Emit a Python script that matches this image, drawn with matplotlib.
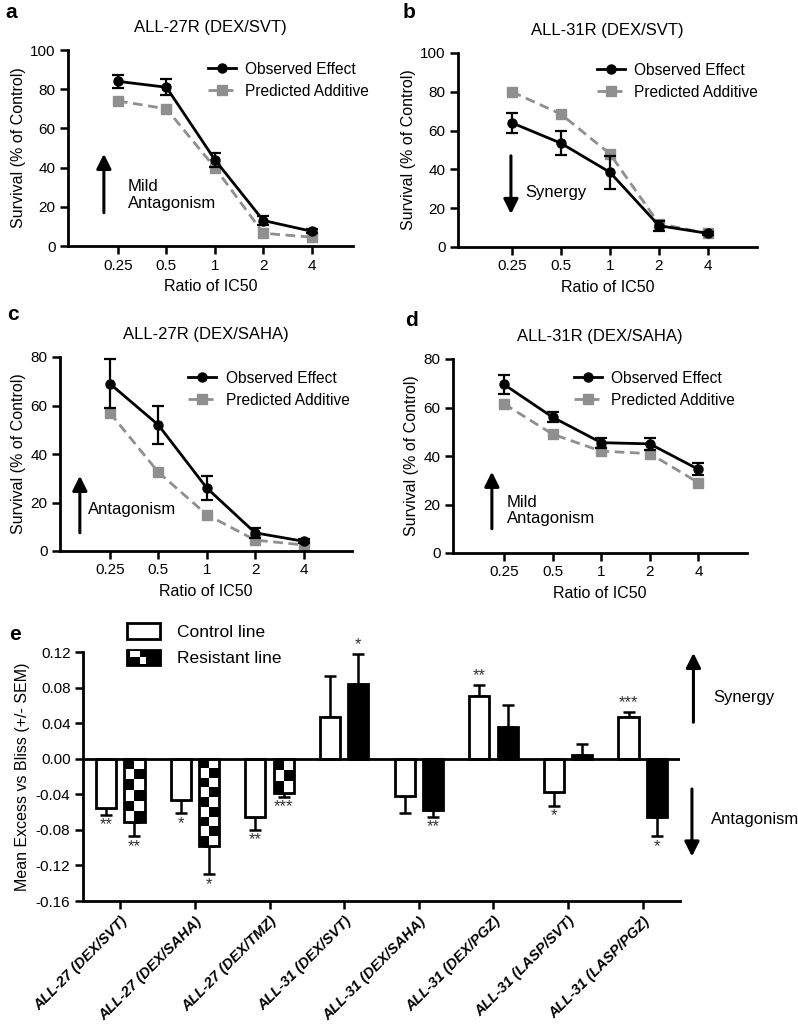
import matplotlib
matplotlib.use("Agg")
import matplotlib.pyplot as plt
import numpy as np
from matplotlib.legend_handler import HandlerBase
from matplotlib.patches import Rectangle, Patch
from matplotlib.lines import Line2D

plt.rcParams["font.family"] = ["Liberation Sans", "DejaVu Sans"]

# ---- data ----
ratios = ["0.25", "0.5", "1", "2", "4"]

a_obs = [84, 81, 44, 13, 7.5]
a_err = [3.2, 4, 3.5, 2.5, 1]
a_pred = [74, 70, 40, 6.5, 4.5]

b_obs = [64, 53.5, 38.5, 11, 7]
b_err = [5, 6.3, 8.5, 2.5, 0.8]
b_pred = [80, 68.5, 48, 12, 7]

c_obs = [69, 52, 26, 7.5, 4]
c_err = [10, 8, 5, 2, 0.8]
c_pred = [57, 32.5, 15, 4.5, 2.5]

d_obs = [69.5, 56, 45.5, 45, 34.5]
d_err = [4, 2, 2, 2.5, 2.5]
d_pred = [61.5, 49, 42, 41, 29]

combos = ["ALL-27 (DEX/SVT)", "ALL-27 (DEX/SAHA)", "ALL-27 (DEX/TMZ)",
          "ALL-31 (DEX/SVT)", "ALL-31 (DEX/SAHA)", "ALL-31 (DEX/PGZ)",
          "ALL-31 (LASP/SVT)", "ALL-31 (LASP/PGZ)"]
control_val = [-0.055, -0.046, -0.065, 0.047, -0.042, 0.070, -0.037, 0.047]
control_err = [0.008, 0.015, 0.015, 0.046, 0.019, 0.013, 0.016, 0.006]
resist_val = [-0.071, -0.098, -0.039, 0.084, -0.058, 0.036, 0.004, -0.065]
resist_err = [0.016, 0.032, 0.004, 0.034, 0.007, 0.024, 0.013, 0.022]
control_stars = ["**", "*", "**", "", "", "**", "*", "***"]
resist_stars = ["**", "*", "***", "*", "**", "", "", "*"]
checkered = [True, True, True, False, False, False, False, False]

W, H = 798, 1027
fig = plt.figure(figsize=(W / 100, H / 100), dpi=100)


def px_axes(x0, y0, x1, y1):
    return fig.add_axes([x0 / W, 1 - y1 / H, (x1 - x0) / W, (y1 - y0) / H])


GREY = "#8f8f8f"
TXT = 12
OBS_STYLE = dict(color="black", lw=2.0, marker="o", ms=6.5)
PRED_STYLE = dict(color=GREY, lw=2.0, ls=(0, (3.5, 2)), marker="s", ms=6.5)


def survival_panel(ax, obs, err, pred, title, ymax, xlim, leg_anchor):
    x = np.arange(len(ratios))
    ax.errorbar(x, obs, yerr=err, capsize=4, capthick=1.6, elinewidth=1.6, zorder=3, **OBS_STYLE)
    ax.plot(x, pred, zorder=2, **PRED_STYLE)
    ax.set_xlim(*xlim)
    ax.set_ylim(0, ymax)
    ax.set_yticks(np.arange(0, ymax + 1, 20))
    ax.set_xticks(x)
    ax.set_xticklabels(ratios)
    for s in ["top", "right"]:
        ax.spines[s].set_visible(False)
    for s in ["left", "bottom"]:
        ax.spines[s].set_linewidth(2.0)
    ax.tick_params(width=1.8, length=5.5, labelsize=11)
    ax.set_title(title, fontsize=12, pad=13)
    ax.set_ylabel("Survival (% of Control)", fontsize=11.5, labelpad=3)
    ax.set_xlabel("Ratio of IC50", fontsize=11.5, labelpad=5)
    handles = [Line2D([], [], **OBS_STYLE), Line2D([], [], **PRED_STYLE)]
    ax.legend(handles, ["Observed Effect", "Predicted Additive"], loc="upper left",
              bbox_to_anchor=leg_anchor, frameon=False, fontsize=11.2, handlelength=1.8,
              handletextpad=0.6, borderpad=0, borderaxespad=0, labelspacing=0.45, numpoints=1)


def arrow(ax, x, y0, y1):
    ax.annotate("", xy=(x, y1), xytext=(x, y0),
                arrowprops=dict(arrowstyle="-|>", lw=2.2, color="black",
                                mutation_scale=22, shrinkA=0, shrinkB=0))


# ---- panel a ----
ax_a = px_axes(68, 50, 353, 246)
survival_panel(ax_a, a_obs, a_err, a_pred, "ALL-27R (DEX/SVT)", 100, (-1.03, 4.85), (0.49, 0.94))
arrow(ax_a, -0.29, 17, 47)
ax_a.text(0.2, 26, "Mild\nAntagonism", fontsize=TXT, va="center", linespacing=1.15)

# ---- panel b ----
ax_b = px_axes(458, 53, 757, 247)
survival_panel(ax_b, b_obs, b_err, b_pred, "ALL-31R (DEX/SVT)", 100, (-1.1, 5.0), (0.465, 0.95))
arrow(ax_b, -0.02, 47, 17)
ax_b.text(0.27, 28, "Synergy", fontsize=TXT, va="center")

# ---- panel c ----
ax_c = px_axes(60, 357, 352, 551)
survival_panel(ax_c, c_obs, c_err, c_pred, "ALL-27R (DEX/SAHA)", 80, (-1.03, 5.0), (0.44, 0.93))
arrow(ax_c, -0.62, 7.5, 31)
ax_c.text(-0.45, 17, "Antagonism", fontsize=TXT, va="center")

# ---- panel d ----
ax_d = px_axes(453, 359, 747, 553)
survival_panel(ax_d, d_obs, d_err, d_pred, "ALL-31R (DEX/SAHA)", 80, (-1.05, 5.0), (0.41, 0.94))
arrow(ax_d, -0.25, 10, 33.5)
ax_d.text(0.06, 17.5, "Mild\nAntagonism", fontsize=TXT, va="center", linespacing=1.15)

# ---- panel e ----
ax_e = px_axes(83, 652, 680, 901)
xg = np.arange(len(combos))
bw = 0.27
off = 0.19

bars_c = ax_e.bar(xg - off, control_val, bw, color="white", edgecolor="black", lw=2.0, zorder=2)
bars_r = ax_e.bar(xg + off, resist_val, bw, color="black", edgecolor="black", lw=2.0, zorder=2)

# checker fill for the ALL-27 resistant bars
cell_h = 0.0112
for b, chk in zip(bars_r, checkered):
    if not chk:
        continue
    x0, w = b.get_x(), b.get_width()
    y0, h = b.get_y(), b.get_height()
    top, bot = max(y0, y0 + h), min(y0, y0 + h)
    nrow = max(1, int(round((top - bot) / cell_h)))
    pat = (np.add.outer(np.arange(nrow), np.arange(2)) % 2).astype(float)
    im = ax_e.imshow(pat, cmap="gray", extent=(x0, x0 + w, bot, top), aspect="auto",
                     interpolation="nearest", vmin=0, vmax=1, zorder=2.5)
    im.set_clip_path(b)
    b.set_facecolor("none")
    b.set_zorder(3)


def one_sided(vals, errs):
    lo = [e if v < 0 else 0 for v, e in zip(vals, errs)]
    hi = [e if v >= 0 else 0 for v, e in zip(vals, errs)]
    return [lo, hi]


ax_e.errorbar(xg - off, control_val, yerr=one_sided(control_val, control_err), fmt="none",
              ecolor="black", elinewidth=1.8, capsize=4.5, capthick=1.8, zorder=1)
ax_e.errorbar(xg + off, resist_val, yerr=one_sided(resist_val, resist_err), fmt="none",
              ecolor="black", elinewidth=1.8, capsize=4.5, capthick=1.8, zorder=1)

for xs, vals, errs, stars in [(xg - off, control_val, control_err, control_stars),
                              (xg + off, resist_val, resist_err, resist_stars)]:
    for xi, v, e, s in zip(xs, vals, errs, stars):
        if not s:
            continue
        if v < 0:
            ax_e.text(xi, v - e - 0.003, s, ha="center", va="top", fontsize=12, color="#333333")
        else:
            ax_e.text(xi, v + e + 0.002, s, ha="center", va="bottom", fontsize=12, color="#333333")

ax_e.axhline(0, color="black", lw=2.0, zorder=4)
ax_e.set_xlim(-0.5, 7.5)
ax_e.set_ylim(-0.16, 0.12)
ticks_e = np.arange(-0.16, 0.121, 0.04)
ax_e.set_yticks(ticks_e)
ax_e.set_yticklabels(["%.2f" % t for t in ticks_e])
ax_e.set_xticks(xg)
ax_e.set_xticklabels(combos, rotation=45, ha="right", rotation_mode="anchor",
                     fontweight="bold", fontstyle="italic")
for s in ["top", "right"]:
    ax_e.spines[s].set_visible(False)
for s in ["left", "bottom"]:
    ax_e.spines[s].set_linewidth(2.0)
ax_e.tick_params(width=1.8, length=5.5, labelsize=11)
ax_e.tick_params(axis="x", labelsize=10.5, pad=4)
ax_e.set_ylabel("Mean Excess vs Bliss (+/- SEM)", fontsize=11.5)

# arrows outside the axes on the right
for xa, ya0, ya1 in [(7.68, 0.041, 0.119), (7.66, -0.034, -0.110)]:
    ax_e.annotate("", xy=(xa, ya1), xytext=(xa, ya0), annotation_clip=False,
                  arrowprops=dict(arrowstyle="-|>", lw=2.2, color="black", mutation_scale=22,
                                  shrinkA=0, shrinkB=0))
ax_e.text(7.94, 0.069, "Synergy", fontsize=TXT, va="center", clip_on=False)
ax_e.text(7.92, -0.068, "Antagonism", fontsize=TXT, va="center", clip_on=False)


class CheckerHandler(HandlerBase):
    def create_artists(self, legend, orig_handle, xdescent, ydescent, width, height, fontsize, trans):
        x0, y0 = -xdescent, -ydescent
        arts = [Rectangle((x0, y0), width, height, facecolor="black", edgecolor="black",
                          lw=2.0, transform=trans)]
        cw = width * 0.3
        ch = height / 2
        arts.append(Rectangle((x0 + cw * 0.35, y0 + ch), cw, ch * 0.8, facecolor="white",
                              edgecolor="none", transform=trans))
        arts.append(Rectangle((x0 + cw * 1.35, y0 + ch * 0.2), cw * 0.6, ch * 0.8,
                              facecolor="white", edgecolor="none", transform=trans))
        return arts


h_ctrl = Patch(facecolor="white", edgecolor="black", lw=2.0)
h_res = Patch(facecolor="black", edgecolor="black")
ax_e.legend([h_ctrl, h_res], ["Control line", "Resistant line"], loc="upper left",
            bbox_to_anchor=(0.073, 1.115), frameon=False, fontsize=12.5, handlelength=1.9,
            handleheight=1.0, handletextpad=1.0, labelspacing=0.55, borderpad=0,
            borderaxespad=0, handler_map={h_res: CheckerHandler()})

# panel letters
for lab, (lx, ly) in zip("abcde", [(5, 12), (403, 12), (7, 315), (405, 320), (9, 635)]):
    fig.text(lx / W, 1 - ly / H, lab, fontsize=15, fontweight="bold", va="center", ha="left")

fig.savefig("out.png", dpi=100)
